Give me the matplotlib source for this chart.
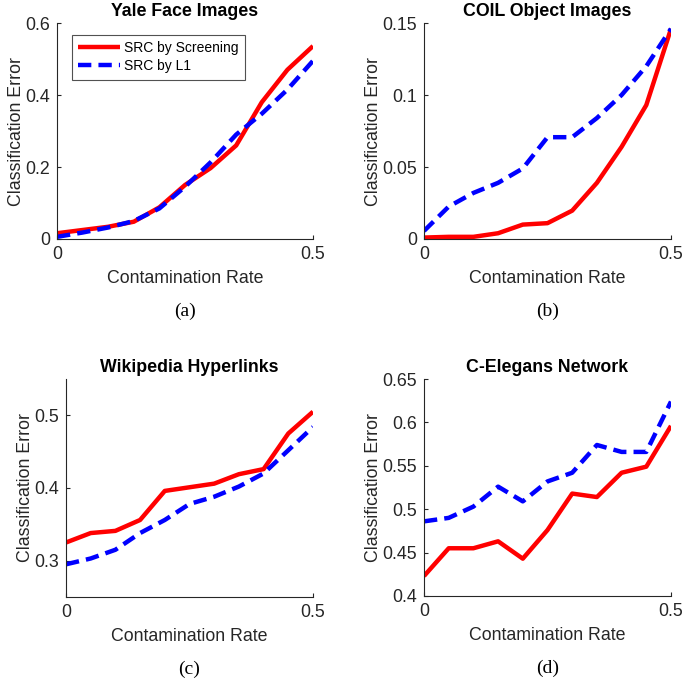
import matplotlib
matplotlib.use("Agg")
import matplotlib.pyplot as plt
import numpy as np

rates = [0.0, 0.05, 0.10, 0.15, 0.20, 0.25, 0.30, 0.35, 0.40, 0.45, 0.50]

titles = ["Yale Face Images", "COIL Object Images", "Wikipedia Hyperlinks", "C-Elegans Network"]
captions = ["(a)", "(b)", "(c)", "(d)"]

yale_screen = [0.016, 0.025, 0.034, 0.048, 0.088, 0.150, 0.197, 0.260, 0.380, 0.470, 0.536]
yale_l1 = [0.006, 0.018, 0.032, 0.050, 0.085, 0.145, 0.213, 0.290, 0.348, 0.415, 0.495]

coil_screen = [0.001, 0.0015, 0.0015, 0.004, 0.010, 0.011, 0.0197, 0.039, 0.064, 0.093, 0.146]
coil_l1 = [0.0056, 0.0225, 0.032, 0.039, 0.049, 0.0707, 0.0707, 0.084, 0.100, 0.120, 0.146]

wiki_screen = [0.325, 0.338, 0.341, 0.356, 0.396, 0.401, 0.406, 0.419, 0.426, 0.475, 0.505]
wiki_l1 = [0.295, 0.303, 0.315, 0.338, 0.356, 0.378, 0.388, 0.402, 0.420, 0.452, 0.484]

eleg_screen = [0.423, 0.455, 0.455, 0.463, 0.443, 0.476, 0.518, 0.514, 0.542, 0.549, 0.596]
eleg_l1 = [0.486, 0.490, 0.503, 0.526, 0.509, 0.532, 0.542, 0.574, 0.566, 0.566, 0.624]

screens = [yale_screen, coil_screen, wiki_screen, eleg_screen]
l1s = [yale_l1, coil_l1, wiki_l1, eleg_l1]

ylims = [(0, 0.6), (0, 0.15), (0.25, 0.55), (0.4, 0.65)]
yticks = [[0, 0.2, 0.4, 0.6], [0, 0.05, 0.1, 0.15], [0.3, 0.4, 0.5], [0.4, 0.45, 0.5, 0.55, 0.6, 0.65]]
yticklabels = [["0", "0.2", "0.4", "0.6"], ["0", "0.05", "0.1", "0.15"], ["0.3", "0.4", "0.5"],
               ["0.4", "0.45", "0.5", "0.55", "0.6", "0.65"]]

# axes boxes in pixels (left, top, right, bottom)
boxes = [(57, 23, 313, 239), (424, 23, 671, 239), (66, 379, 313, 597), (424, 379, 671, 596)]

W = H = 684
fig = plt.figure(figsize=(6.84, 6.84), dpi=100)
plt.rcParams['font.family'] = ['Liberation Sans', 'DejaVu Sans']
gray = '#262626'
fs = 12.8

for i in range(4):
    l, t, r, b = boxes[i]
    ax = fig.add_axes([l / W, 1 - b / H, (r - l) / W, (b - t) / H])
    ax.plot(rates, screens[i], color='#ff0000', lw=3.2, label='SRC by Screening', solid_capstyle='butt')
    ax.plot(rates, l1s[i], color='#0000ff', lw=3.2, ls=(0, (3.0, 1.6)), label='SRC by L1', dash_capstyle='butt')
    ax.set_xlim(0, 0.5)
    ax.set_ylim(*ylims[i])
    ax.set_xticks([0, 0.5])
    ax.set_xticklabels(["0", "0.5"])
    ax.set_yticks(yticks[i])
    ax.set_yticklabels(yticklabels[i])
    for s in ['top', 'right']:
        ax.spines[s].set_visible(False)
    for s in ['left', 'bottom']:
        ax.spines[s].set_color(gray)
        ax.spines[s].set_linewidth(0.8)
    ax.tick_params(direction='in', length=3, width=0.8, colors=gray, labelsize=fs, pad=5)
    ax.set_title(titles[i], fontsize=fs, fontweight='bold', color='black', pad=5)
    ax.set_xlabel("Contamination Rate", fontsize=fs, color=gray, labelpad=5)
    ax.set_ylabel("Classification Error", fontsize=fs, color=gray, labelpad=0)
    if i == 0:
        leg = ax.legend(loc='upper left', bbox_to_anchor=(0.058, 0.945), fontsize=10, frameon=True,
                        fancybox=False, edgecolor=gray, handlelength=3.0, handletextpad=0.3,
                        borderpad=0.45, labelspacing=0.3, borderaxespad=0)
        leg.get_frame().set_linewidth(0.8)
    cx = (l + r) / 2 / W
    cy = 1 - (b + 72) / H
    fig.text(cx, cy, captions[i], ha='center', va='center', fontsize=14,
             family=['Liberation Serif', 'DejaVu Serif'])

fig.savefig("out.png", dpi=100)
